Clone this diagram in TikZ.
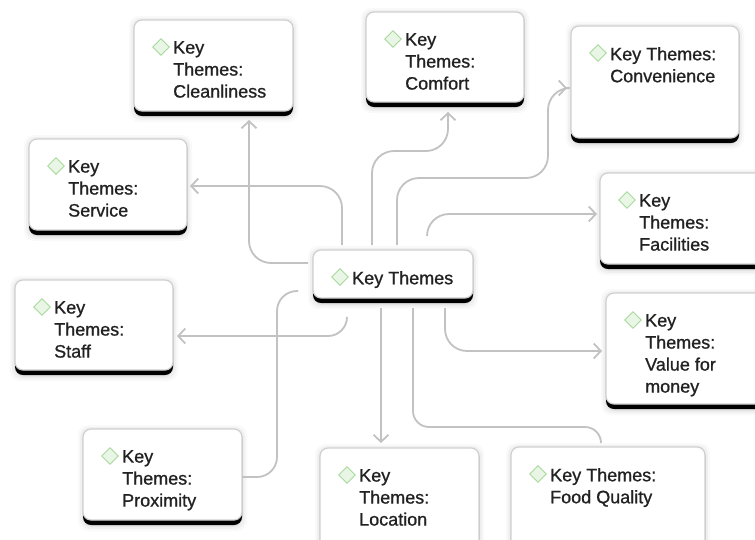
\documentclass[tikz,border=0pt]{standalone}
\usepackage{fontspec}
\setmainfont{Liberation Sans}[FakeBold=0.9]
\usetikzlibrary{arrows.meta,shapes.geometric,calc}
\definecolor{boxline}{HTML}{D0D0D0}
\definecolor{conn}{HTML}{C2C2C2}
\definecolor{txtc}{HTML}{222222}
\definecolor{diaD}{HTML}{A6DA9C}
\definecolor{diaF}{HTML}{E9F6E5}
\tikzset{
 tbox/.style={fill=black, rounded corners=8pt, inner sep=0pt, outer sep=0pt},
 diam/.style={diamond, draw=diaD, fill=diaF, line width=0.9pt, minimum width=17pt, minimum height=17pt, inner sep=0pt},
 ttext/.style={font=\fontsize{18}{22}\selectfont, align=left, inner sep=0pt, text=txtc, anchor=north west},
 link/.style={draw=conn, line width=1.8pt, rounded corners=22pt},
 arr/.style={-{Straight Barb[length=7pt,width=15pt]}}
}
\newcommand\themebox[6]{%
 \foreach \s/\o in {5/0.025,3/0.035,1/0.05}{%
   \fill[black, opacity=\o, rounded corners=10pt] (#2-\s,#3-\s+1) rectangle (#4+\s,#5+\s+1);}%
 \node[tbox, minimum width={#4-#2}, minimum height={#5-#3}, anchor=north west] (#1) at (#2,#3) {};
 \fill[white, draw=boxline, line width=1.2pt, rounded corners=8pt] (#2,#3) rectangle (#4,#5-5);
 \node[diam] (#1-d) at (#2+27,#3+27) {};
 \node[ttext] (#1-t) at (#2+39,#3+21) {#6};
}
\begin{document}
\begin{tikzpicture}[x=1pt,y=-1pt]
\fill[white] (0,0) rectangle (755,539);
\useasboundingbox (0,0) rectangle (755,539);
\clip (0,0) rectangle (755,539);

\themebox{c}{313}{250}{473}{303}{Key Themes}
\themebox{cl}{134}{20}{293}{116}{Key\\Themes:\\Cleanliness}
\themebox{co}{366}{12}{524}{107}{Key\\Themes:\\Comfort}
\themebox{cv}{571}{26}{739}{143}{Key Themes:\\Convenience}
\themebox{sv}{29}{139}{187}{235}{Key\\Themes:\\Service}
\themebox{fa}{600}{173}{765}{269}{Key\\Themes:\\Facilities}
\themebox{st}{15}{280}{173}{375}{Key\\Themes:\\Staff}
\themebox{va}{606}{293}{765}{409}{Key\\Themes:\\Value for\\money}
\themebox{pr}{83}{429}{242}{525}{Key\\Themes:\\Proximity}
\themebox{lo}{320}{448}{479}{560}{Key\\Themes:\\Location}
\themebox{fo}{511}{447}{705}{560}{Key Themes:\\Food Quality}

\coordinate (fs) at (427,236);
\coordinate (ss) at (347,317);
\coordinate (ps) at (298,291);

% connectors
\draw[link, arr, shorten <=5pt, shorten >=4pt] (c.west |- 0,263) -| (cl.south -| 249,0);
\draw[link, arr, shorten <=5pt, shorten >=3pt] (c.north -| 342,0) |- (sv.east |- 0,186);
\draw[link, arr, shorten <=5pt, shorten >=5pt] (c.north -| 372,0) |- (448,151) -- (co.south -| 448,0);
\draw[link, arr, shorten <=5pt, shorten >=4pt] (c.north -| 397,0) |- (548,178) |- (cv.west |- 0,88);
\draw[link, arr, shorten >=3pt] (fs) |- (fa.west |- 0,214);
\draw[link, arr, shorten <=5pt, shorten >=4pt] (c.south -| 445,0) |- (va.west |- 0,351);
\draw[link, arr, rounded corners=19pt, shorten >=4pt] (ss) |- (st.east |- 0,336);
\draw[link, rounded corners=20pt] (ps) -| (277,477) -- (pr.east |- 0,477);
\draw[link, arr, shorten <=5pt, shorten >=5pt] (c.south -| 381,0) -- (lo.north -| 381,0);
\draw[link, rounded corners=16pt, shorten <=5pt, shorten >=4pt] (c.south -| 413,0) |- (601,427) -- (fo.north -| 601,0);
\end{tikzpicture}
\end{document}
